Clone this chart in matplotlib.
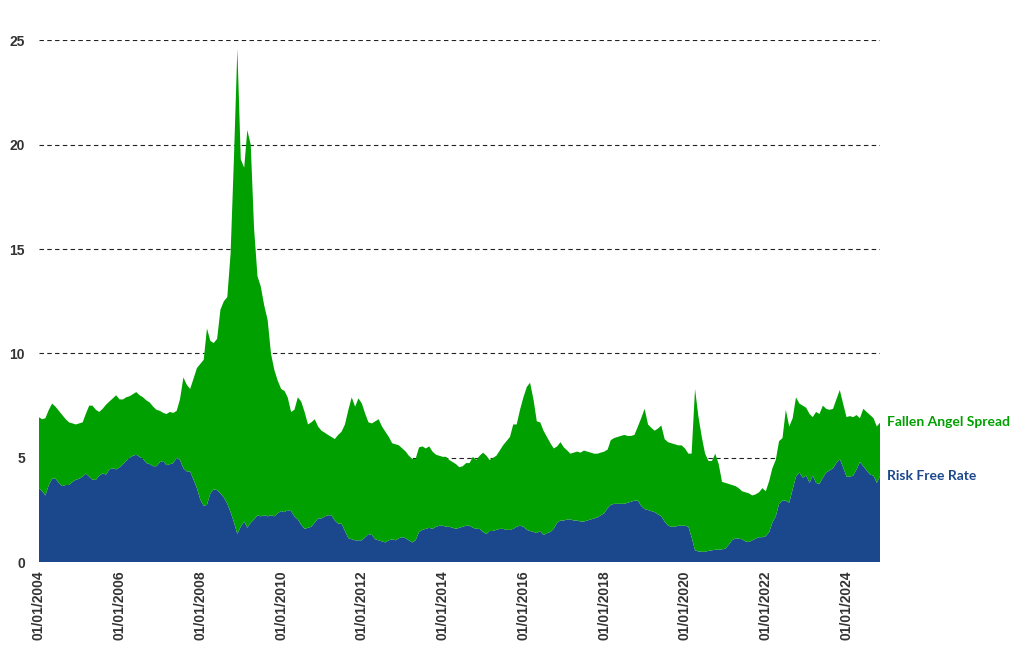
import numpy as np
import pandas as pd
import matplotlib
matplotlib.use("Agg")
import matplotlib.pyplot as plt
import matplotlib.dates as mdates

# monthly readings, Jan 2004 .. Nov 2024 (one row per year)
fallen_angel_yield = [
    6.95, 6.85, 6.9, 7.3, 7.6, 7.45, 7.25, 7.05, 6.85, 6.7, 6.65, 6.6,      # 2004
    6.65, 6.7, 7.1, 7.5, 7.5, 7.3, 7.2, 7.35, 7.55, 7.7, 7.85, 8.0,         # 2005
    7.8, 7.8, 7.9, 7.95, 8.05, 8.15, 8.0, 7.9, 7.75, 7.65, 7.45, 7.3,       # 2006
    7.25, 7.15, 7.1, 7.2, 7.15, 7.25, 7.8, 8.85, 8.5, 8.3, 8.8, 9.3,        # 2007
    9.5, 9.7, 11.2, 10.6, 10.5, 10.7, 12.1, 12.5, 12.7, 14.8, 19.5, 24.6,   # 2008
    19.3, 18.9, 20.7, 20.0, 16.0, 13.7, 13.2, 12.3, 11.6, 10.0, 9.2, 8.7,   # 2009
    8.3, 8.2, 7.9, 7.2, 7.3, 7.9, 7.7, 7.2, 6.6, 6.7, 6.85, 6.5,            # 2010
    6.3, 6.2, 6.1, 6.0, 5.9, 6.1, 6.25, 6.6, 7.3, 7.9, 7.45, 7.85,          # 2011
    7.6, 7.1, 6.7, 6.65, 6.75, 6.85, 6.5, 6.25, 6.0, 5.7, 5.65, 5.6,        # 2012
    5.45, 5.3, 5.1, 4.95, 4.95, 5.5, 5.55, 5.45, 5.55, 5.3, 5.15, 5.1,      # 2013
    5.05, 5.05, 4.9, 4.8, 4.7, 4.55, 4.6, 4.75, 4.75, 5.05, 4.9, 5.1,       # 2014
    5.25, 5.1, 4.9, 5.0, 5.1, 5.35, 5.6, 5.8, 6.0, 6.6, 6.6, 7.3,           # 2015
    7.9, 8.4, 8.6, 7.8, 6.75, 6.7, 6.3, 6.0, 5.7, 5.45, 5.55, 5.75,         # 2016
    5.5, 5.35, 5.2, 5.25, 5.3, 5.25, 5.35, 5.3, 5.25, 5.2, 5.2, 5.25,       # 2017
    5.3, 5.4, 5.85, 5.95, 6.0, 6.05, 6.1, 6.05, 6.05, 6.1, 6.5, 6.9,        # 2018
    7.35, 6.6, 6.45, 6.3, 6.4, 6.55, 5.9, 5.75, 5.7, 5.65, 5.6, 5.6,        # 2019
    5.45, 5.2, 5.2, 8.3, 7.0, 6.0, 5.2, 4.85, 4.85, 5.2, 4.7, 3.85,         # 2020
    3.8, 3.75, 3.7, 3.65, 3.55, 3.4, 3.35, 3.3, 3.2, 3.25, 3.35, 3.55,      # 2021
    3.4, 3.9, 4.5, 4.9, 5.8, 5.95, 7.3, 6.5, 6.9, 7.9, 7.6, 7.5,            # 2022
    7.4, 7.1, 6.95, 7.2, 7.1, 7.5, 7.35, 7.3, 7.35, 7.8, 8.25, 7.6,         # 2023
    6.95, 7.0, 6.95, 7.05, 6.9, 7.35, 7.2, 7.05, 6.9, 6.5, 6.7,             # 2024
]

risk_free_rate = [
    3.55, 3.4, 3.2, 3.7, 4.0, 4.0, 3.8, 3.65, 3.7, 3.7, 3.85, 3.95,         # 2004
    4.0, 4.1, 4.25, 4.1, 3.95, 3.95, 4.15, 4.25, 4.2, 4.45, 4.5, 4.45,      # 2005
    4.55, 4.7, 4.85, 5.0, 5.1, 5.15, 5.05, 4.95, 4.75, 4.7, 4.6, 4.6,       # 2006
    4.8, 4.85, 4.65, 4.7, 4.75, 5.0, 4.9, 4.5, 4.35, 4.35, 3.95, 3.55,      # 2007
    3.0, 2.7, 2.75, 3.3, 3.5, 3.45, 3.3, 3.1, 2.8, 2.4, 1.9, 1.35,          # 2008
    1.7, 1.95, 1.65, 1.9, 2.05, 2.25, 2.2, 2.25, 2.2, 2.25, 2.2, 2.35,      # 2009
    2.45, 2.4, 2.5, 2.45, 2.2, 2.05, 1.8, 1.6, 1.65, 1.7, 1.9, 2.1,         # 2010
    2.1, 2.2, 2.25, 2.25, 2.0, 1.85, 1.85, 1.5, 1.15, 1.1, 1.05, 1.05,      # 2011
    1.05, 1.2, 1.35, 1.3, 1.1, 1.05, 1.0, 0.95, 1.05, 1.1, 1.05, 1.15,      # 2012
    1.2, 1.15, 1.05, 0.95, 1.05, 1.45, 1.55, 1.6, 1.65, 1.6, 1.7, 1.75,     # 2013
    1.75, 1.7, 1.7, 1.65, 1.6, 1.65, 1.7, 1.75, 1.75, 1.65, 1.6, 1.6,       # 2014
    1.45, 1.35, 1.5, 1.5, 1.55, 1.6, 1.6, 1.55, 1.55, 1.6, 1.7, 1.75,       # 2015
    1.7, 1.55, 1.5, 1.45, 1.4, 1.5, 1.3, 1.4, 1.45, 1.6, 1.9, 2.0,          # 2016
    2.0, 2.05, 2.05, 2.0, 2.0, 1.95, 1.95, 2.0, 2.05, 2.1, 2.15, 2.25,      # 2017
    2.35, 2.6, 2.75, 2.8, 2.8, 2.8, 2.8, 2.85, 2.9, 2.95, 2.95, 2.7,        # 2018
    2.55, 2.5, 2.45, 2.4, 2.3, 2.2, 1.95, 1.75, 1.7, 1.7, 1.75, 1.75,       # 2019
    1.75, 1.7, 1.2, 0.57, 0.52, 0.5, 0.5, 0.55, 0.57, 0.6, 0.6, 0.62,       # 2020
    0.65, 0.85, 1.05, 1.15, 1.13, 1.1, 1.0, 0.97, 1.05, 1.13, 1.2, 1.2,     # 2021
    1.25, 1.45, 1.9, 2.2, 2.8, 2.95, 2.95, 2.85, 3.5, 4.1, 4.3, 4.05,       # 2022
    4.15, 3.8, 4.15, 3.8, 3.75, 4.05, 4.3, 4.4, 4.5, 4.75, 4.95, 4.55,      # 2023
    4.1, 4.1, 4.15, 4.45, 4.8, 4.6, 4.4, 4.2, 4.15, 3.8, 4.15,              # 2024
]

series_labels = ["Risk Free Rate", "Fallen Angel Spread"]
y_ticks = [0, 5, 10, 15, 20, 25]

GREEN = "#00A000"
BLUE = "#1B478C"

dates = pd.date_range("2004-01-01", periods=len(risk_free_rate), freq="MS")
rf = np.array(risk_free_rate)
spread = np.array(fallen_angel_yield) - rf

fig = plt.figure(figsize=(10.2, 6.5), dpi=100)
ax = fig.add_axes([0.038, 0.135, 0.825, 0.803])

ax.stackplot(dates, rf, spread, colors=[BLUE, GREEN], linewidth=0)

ax.set_ylim(0, 25)
ax.set_xlim(dates[0], dates[-1])
ax.set_yticks(y_ticks)
ax.set_axisbelow(True)
ax.yaxis.grid(True, linestyle=(0, (4, 3)), color="#222222", linewidth=0.8)
for sp in ax.spines.values():
    sp.set_visible(False)

ax.xaxis.set_major_locator(mdates.YearLocator(2, month=1, day=1))
ax.xaxis.set_major_formatter(mdates.DateFormatter("%d/%m/%Y"))
ax.tick_params(axis="both", length=0, colors="#333333")
ax.tick_params(axis="y", pad=10)
ax.tick_params(axis="x", pad=6)
for lbl in ax.get_xticklabels():
    lbl.set_rotation(90)
    lbl.set_fontfamily("Liberation Sans")
    lbl.set_fontweight("bold")
    lbl.set_fontsize(10)
for lbl in ax.get_yticklabels():
    lbl.set_fontfamily("Liberation Sans")
    lbl.set_fontweight("bold")
    lbl.set_fontsize(10)

# series names at the right end
ax.annotate(series_labels[1], xy=(dates[-1], fallen_angel_yield[-1]), xytext=(5, 0),
            textcoords="offset points", va="center", ha="left", color=GREEN,
            fontsize=10, fontweight="bold", family="Lato", annotation_clip=False)
ax.annotate(series_labels[0], xy=(dates[-1], risk_free_rate[-1]), xytext=(5, 0),
            textcoords="offset points", va="center", ha="left", color=BLUE,
            fontsize=10, fontweight="bold", family="Lato", annotation_clip=False)

fig.savefig("out.png", dpi=100)
